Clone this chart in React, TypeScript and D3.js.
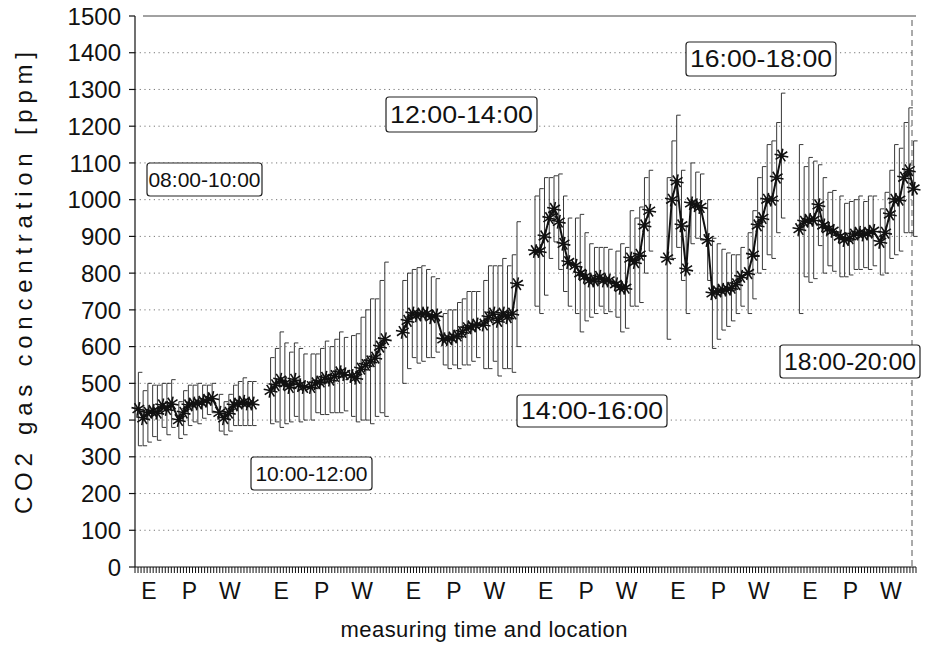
import React from "react";
import * as d3 from "d3";

const periods = ["08:00-10:00", "10:00-12:00", "12:00-14:00", "14:00-16:00", "16:00-18:00", "18:00-20:00"];
const locations = ["E", "P", "W"];
const yTicks = [0, 100, 200, 300, 400, 500, 600, 700, 800, 900, 1000, 1100, 1200, 1300, 1400, 1500];

// means per period, per location (8 measurements each)
const meanE = [
  [430, 405, 420, 425, 420, 440, 430, 445],
  [480, 495, 510, 500, 490, 510, 495, 490],
  [640, 670, 690, 685, 690, 690, 680, 685],
  [860, 860, 900, 950, 975, 940, 880, 830],
  [840, 1000, 1050, 930, 810, 990, 985, 980],
  [920, 940, 945, 945, 985, 930, 920, 915],
];
const meanP = [
  [400, 420, 440, 445, 445, 450, 455, 460],
  [490, 500, 505, 515, 510, 520, 530, 525],
  [620, 620, 625, 630, 640, 650, 655, 660],
  [820, 800, 790, 780, 780, 790, 780, 780],
  [890, 745, 750, 755, 755, 760, 770, 790],
  [900, 890, 895, 905, 910, 905, 910, 915],
];
const meanW = [
  [420, 405, 420, 440, 445, 450, 445, 445],
  [520, 515, 540, 550, 560, 570, 600, 620],
  [660, 680, 690, 670, 690, 680, 690, 770],
  [770, 760, 760, 840, 830, 850, 930, 970],
  [800, 850, 930, 950, 1000, 1000, 1060, 1120],
  [885, 910, 960, 1000, 1000, 1060, 1080, 1030],
];
// standard deviations
const sdE = [
  [100, 75, 80, 70, 75, 60, 70, 65],
  [90, 100, 130, 110, 95, 100, 100, 90],
  [140, 130, 120, 130, 130, 120, 110, 100],
  [150, 170, 160, 110, 90, 130, 130, 120],
  [220, 160, 180, 150, 120, 110, 90, 90],
  [230, 150, 170, 160, 110, 130, 100, 110],
];
const sdP = [
  [50, 60, 55, 50, 55, 45, 40, 40],
  [90, 80, 90, 100, 90, 100, 110, 100],
  [70, 80, 75, 90, 90, 100, 95, 90],
  [130, 160, 120, 100, 90, 80, 90, 85],
  [110, 150, 130, 110, 100, 90, 80, 80],
  [110, 100, 100, 95, 100, 90, 100, 95],
];
const sdW = [
  [50, 45, 50, 55, 60, 65, 60, 60],
  [110, 120, 140, 150, 170, 160, 180, 210],
  [120, 140, 130, 150, 150, 140, 160, 170],
  [90, 120, 110, 130, 120, 130, 130, 110],
  [110, 120, 130, 140, 150, 160, 150, 170],
  [90, 110, 120, 150, 140, 150, 170, 130],
];

const W = 927;
const H = 647;
const left = 135;
const right = 916;
const top = 16;
const bottom = 567;
const font = "'Liberation Sans', Arial, Helvetica, sans-serif";

// label box placements (layout)
const boxPos = [
  { x: 147, y: 163, w: 115, h: 33, fs: 21, fit: false },
  { x: 251, y: 457, w: 121, h: 33, fs: 21, fit: false },
  { x: 386, y: 97, w: 151, h: 35, fs: 23, fit: true },
  { x: 517, y: 395, w: 150, h: 32, fs: 23, fit: true },
  { x: 686, y: 42, w: 150, h: 34, fs: 23, fit: true },
  { x: 780, y: 345, w: 140, h: 33, fs: 23, fit: true },
];

export default function App() {
  const y = d3.scaleLinear().domain([0, 1500]).range([bottom, top]);
  const xp = d3.scaleBand().domain(periods).range([left + 1, right]).paddingInner(0.1).paddingOuter(0);
  const xl = d3.scaleBand().domain(locations).range([0, xp.bandwidth()]).paddingInner(0.06);
  const xi = d3.scalePoint<number>().domain(d3.range(8)).range([0, xl.bandwidth()]).padding(0.5);
  const xTick = d3.scaleLinear().domain([0, 258]).range([left, right]);

  const means = [meanE, meanP, meanW];
  const sds = [sdE, sdP, sdW];

  const star = (cx: number, cy: number, r: number) => {
    let d = "";
    for (let k = 0; k < 4; k++) {
      const a = (k * Math.PI) / 4 + 0.2;
      const dx = r * Math.cos(a);
      const dy = r * Math.sin(a);
      d += `M${cx - dx},${cy - dy}L${cx + dx},${cy + dy}`;
    }
    return d;
  };

  const line = d3.line<[number, number]>();

  return (
    <svg width={W} height={H} style={{ position: "absolute", left: 0, top: 0, background: "#fff" }} fontFamily={font}>
      <rect x={0} y={0} width={W} height={H} fill="#fff" />
      {/* grid */}
      {yTicks.slice(1, -1).map((t) => (
        <line key={"g" + t} x1={left} x2={right - 4} y1={y(t)} y2={y(t)} stroke="#777" strokeWidth={1} strokeDasharray="1.2,3.5" />
      ))}
      {/* frame */}
      <line x1={left + 8} x2={right} y1={top} y2={top} stroke="#444" strokeWidth={1} />
      <line x1={912} x2={912} y1={top + 4} y2={bottom} stroke="#555" strokeWidth={1} strokeDasharray="6,4" />
      <line x1={left} x2={left} y1={top} y2={bottom} stroke="#111" strokeWidth={1.2} />
      <line x1={left} x2={right} y1={bottom} y2={bottom} stroke="#111" strokeWidth={1.2} />
      {/* y ticks */}
      {yTicks.map((t) => (
        <g key={"t" + t}>
          <line x1={left - 6} x2={left} y1={y(t)} y2={y(t)} stroke="#111" strokeWidth={1.2} />
          <text x={121} y={y(t)} dy="0.36em" textAnchor="end" fontSize={24} fill="#111">
            {t}
          </text>
        </g>
      ))}
      {/* x minor ticks */}
      {d3.range(0, 259).map((i) => (
        <line key={"xt" + i} x1={xTick(i)} x2={xTick(i)} y1={bottom} y2={bottom + 6} stroke="#111" strokeWidth={1} />
      ))}
      {/* location labels */}
      {periods.map((p) =>
        locations.map((l) => (
          <text
            key={p + l}
            x={(xp(p) as number) + (xl(l) as number) + xl.bandwidth() / 2 - 6}
            y={599}
            textAnchor="middle"
            fontSize={23}
            fill="#111"
          >
            {l}
          </text>
        ))
      )}
      {/* data */}
      {periods.map((p, pi) => {
        const pts: [number, number][] = [];
        const bars: React.ReactElement[] = [];
        locations.forEach((l, li) => {
          means[li][pi].forEach((m, i) => {
            const cx = (xp(p) as number) + (xl(l) as number) + (xi(i) as number);
            const sd = sds[li][pi][i];
            const yh = y(m + sd);
            const yl = y(m - sd);
            pts.push([cx, y(m)]);
            bars.push(
              <path
                key={`b${pi}-${li}-${i}`}
                d={`M${cx + 4},${yh}L${cx},${yh}L${cx},${yl}L${cx + 4},${yl}`}
                fill="none"
                stroke="#222"
                strokeWidth={0.9}
              />
            );
          });
        });
        return (
          <g key={"p" + pi}>
            {bars}
            <path d={line(pts) || ""} fill="none" stroke="#111" strokeWidth={2} />
            {pts.map(([cx, cy], k) => (
              <path key={"s" + k} d={star(cx, cy, 7)} stroke="#111" strokeWidth={1.6} />
            ))}
          </g>
        );
      })}
      {/* period labels */}
      {periods.map((p, i) => {
        const b = boxPos[i];
        const fitProps = b.fit ? { textLength: b.w - 8, lengthAdjust: "spacingAndGlyphs" } : {};
        return (
          <g key={"box" + p}>
            <rect x={b.x} y={b.y} width={b.w} height={b.h} rx={3} fill="#fff" stroke="#222" strokeWidth={1.2} />
            <text
              x={b.x + b.w / 2}
              y={b.y + b.h / 2}
              dy="0.36em"
              textAnchor="middle"
              fontSize={b.fs}
              fill="#111"
              {...fitProps}
            >
              {p}
            </text>
          </g>
        );
      })}
      {/* axis titles */}
      <text
        transform={`translate(32,283) rotate(-90)`}
        textAnchor="middle"
        fontSize={24}
        fill="#111"
        textLength={462}
        lengthAdjust="spacing"
      >
        CO2 gas concentration [ppm]
      </text>
      <text x={484} y={637} textAnchor="middle" fontSize={22} fill="#111" textLength={287} lengthAdjust="spacing">
        measuring time and location
      </text>
    </svg>
  );
}
